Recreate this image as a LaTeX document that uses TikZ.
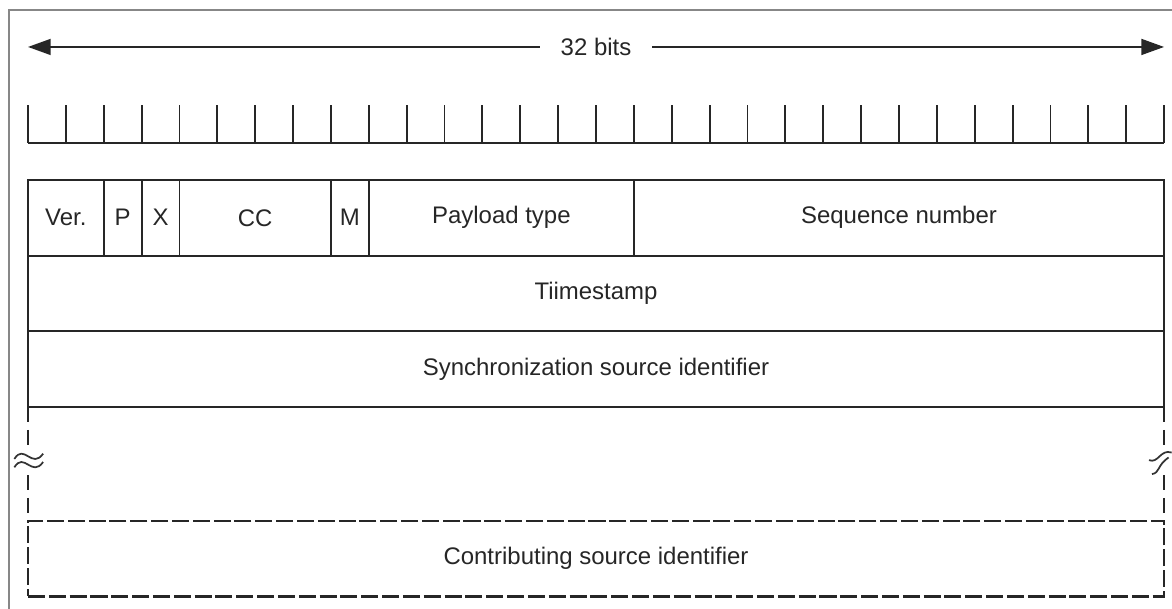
\documentclass[tikz,border=0pt]{standalone}
\usepackage{fontspec}
\setmainfont{Liberation Sans}
\usepackage{tikz}
\usetikzlibrary{
    positioning,
    arrows.meta
}
\tikzset{
    > = {Triangle[length=6mm, width=4.2mm]},
    field/.style = {draw=black!85, line width=1.4pt, minimum height=2cm,
        inner sep=0pt, outer sep=0pt, anchor=north west, text=black!85,
        font=\fontsize{18}{22}\selectfont},
    gapline/.style = {draw=black!85, line width=1.4pt, dash pattern=on 0.4cm off 0.2cm},
    breakmark/.style = {draw=black!80, line width=1.3pt},
}

\begin{document}
\begin{tikzpicture}
\useasboundingbox (-0.739,0) rectangle (30.209,-16.081);
\draw[color=black!47, line width=2.2pt] (-0.502,-17) -- (-0.502,-0.264) -- (31,-0.264);

\node[text=black!85, font=\fontsize{18}{22}\selectfont, inner xsep=0.55cm] (bits) at (15,-1.24) {32 bits};
\coordinate (bitsl) at (0,-1.24);
\coordinate (bitsr) at (30,-1.24);
\draw[->, black!85, line width=1.4pt] (bits) -- (bitsl);
\draw[->, black!85, line width=1.4pt] (bits) -- (bitsr);

\draw[black!85, line width=1.4pt] (0,-3.77) -- (30,-3.77);
\draw[black!85, line width=1.4pt] (0,-3.77) -- (0,-2.76);
\draw[black!85, line width=1.4pt] (1,-3.77) -- (1,-2.76);
\draw[black!85, line width=1.4pt] (2,-3.77) -- (2,-2.76);
\draw[black!85, line width=1.4pt] (3,-3.77) -- (3,-2.76);
\draw[black!85, line width=1.4pt] (4,-3.77) -- (4,-2.76);
\draw[black!85, line width=1.4pt] (5,-3.77) -- (5,-2.76);
\draw[black!85, line width=1.4pt] (6,-3.77) -- (6,-2.76);
\draw[black!85, line width=1.4pt] (7,-3.77) -- (7,-2.76);
\draw[black!85, line width=1.4pt] (8,-3.77) -- (8,-2.76);
\draw[black!85, line width=1.4pt] (9,-3.77) -- (9,-2.76);
\draw[black!85, line width=1.4pt] (10,-3.77) -- (10,-2.76);
\draw[black!85, line width=1.4pt] (11,-3.77) -- (11,-2.76);
\draw[black!85, line width=1.4pt] (12,-3.77) -- (12,-2.76);
\draw[black!85, line width=1.4pt] (13,-3.77) -- (13,-2.76);
\draw[black!85, line width=1.4pt] (14,-3.77) -- (14,-2.76);
\draw[black!85, line width=1.4pt] (15,-3.77) -- (15,-2.76);
\draw[black!85, line width=1.4pt] (16,-3.77) -- (16,-2.76);
\draw[black!85, line width=1.4pt] (17,-3.77) -- (17,-2.76);
\draw[black!85, line width=1.4pt] (18,-3.77) -- (18,-2.76);
\draw[black!85, line width=1.4pt] (19,-3.77) -- (19,-2.76);
\draw[black!85, line width=1.4pt] (20,-3.77) -- (20,-2.76);
\draw[black!85, line width=1.4pt] (21,-3.77) -- (21,-2.76);
\draw[black!85, line width=1.4pt] (22,-3.77) -- (22,-2.76);
\draw[black!85, line width=1.4pt] (23,-3.77) -- (23,-2.76);
\draw[black!85, line width=1.4pt] (24,-3.77) -- (24,-2.76);
\draw[black!85, line width=1.4pt] (25,-3.77) -- (25,-2.76);
\draw[black!85, line width=1.4pt] (26,-3.77) -- (26,-2.76);
\draw[black!85, line width=1.4pt] (27,-3.77) -- (27,-2.76);
\draw[black!85, line width=1.4pt] (28,-3.77) -- (28,-2.76);
\draw[black!85, line width=1.4pt] (29,-3.77) -- (29,-2.76);
\draw[black!85, line width=1.4pt] (30,-3.77) -- (30,-2.76);

\node[field, minimum width=2cm] (ver) at (0,-4.75) {Ver.};
\node[field, minimum width=1cm, right=0cm of ver] (pad) {P};
\node[field, minimum width=1cm, right=0cm of pad] (ext) {X};
\node[field, minimum width=4cm, right=0cm of ext] (cc) {CC};
\node[field, minimum width=1cm, right=0cm of cc] (mark) {M};
\node[field, minimum width=7cm, right=0cm of mark] (ptype) {Payload type};
\node[field, minimum width=14cm, right=0cm of ptype] (seq) {Sequence number};

\node[field, minimum width=30cm] (ts) at (ver.south west) {Tiimestamp};
\node[field, minimum width=30cm] (ssrc) at (ts.south west) {Synchronization source identifier};
\node[field, minimum width=30cm, line width=1.8pt, dash pattern=on 0.45cm off 0.1cm] (csrc) at (0,-13.75) {Contributing source identifier};

\draw[gapline] (ssrc.south west) -- (csrc.north west);
\draw[gapline] (ssrc.south east) -- (csrc.north east);

\fill[white] (-0.1,-11.9) rectangle (0.1,-12.45);
\fill[white] (29.9,-11.9) rectangle (30.1,-12.45);
\draw[breakmark] (-0.36,-12.12) .. controls (-0.1,-11.7) and (0.1,-12.4) .. (0.4,-11.98);
\draw[breakmark] (-0.36,-12.34) .. controls (-0.1,-11.92) and (0.1,-12.62) .. (0.4,-12.2);
\draw[breakmark] (30.2,-11.95) .. controls (29.9,-11.85) and (29.85,-12.25) .. (29.6,-12.15);
\draw[breakmark] (30.12,-12.08) .. controls (29.8,-12.3) and (29.9,-12.48) .. (29.68,-12.52);
\end{tikzpicture}
\end{document}
